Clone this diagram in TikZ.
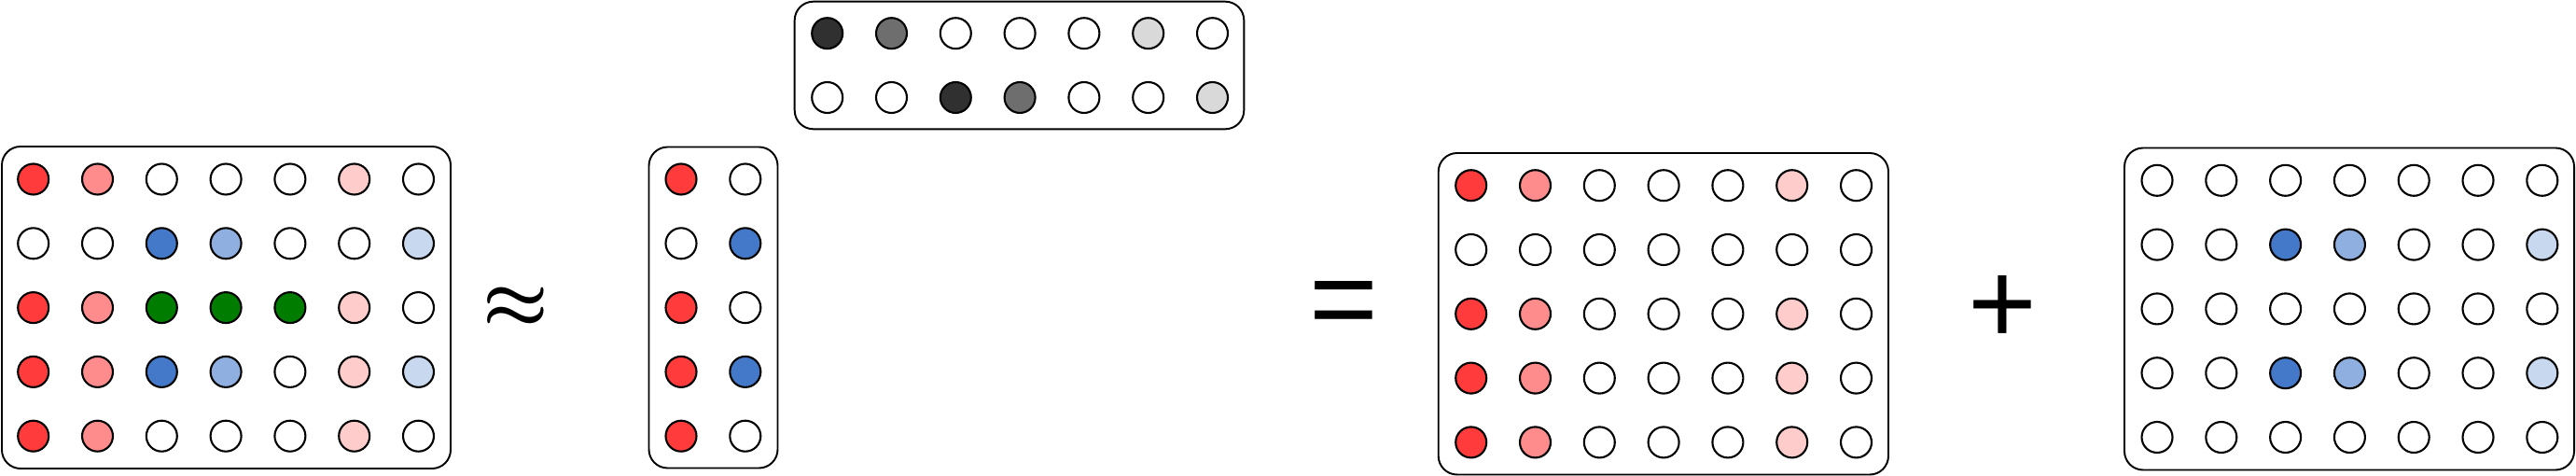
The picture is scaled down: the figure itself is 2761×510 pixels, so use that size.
\documentclass[tikz,border=0pt]{standalone}
\usepackage{bm}
\usepackage{fontspec}
\newfontfamily\opsans{Liberation Sans}

\definecolor{rA}{RGB}{255,59,59}
\definecolor{rB}{RGB}{255,140,140}
\definecolor{rC}{RGB}{255,204,204}
\definecolor{bA}{RGB}{68,120,200}
\definecolor{bB}{RGB}{143,175,224}
\definecolor{bC}{RGB}{200,216,238}
\definecolor{gA}{RGB}{0,125,0}
\definecolor{kA}{RGB}{48,48,48}
\definecolor{kB}{RGB}{110,110,110}
\definecolor{kC}{RGB}{217,217,217}

\tikzset{
	cell/.style={circle, draw, line width=1.2pt, minimum size=0.66cm, inner sep=0pt},
	panel/.style={draw, line width=1.1pt, rounded corners=0.4cm},
	op/.style={inner sep=0pt, font=\opsans\fontsize{72}{72}\selectfont},
}

% one grid of cells: name, first centre x, first centre y, rows of colours
\newcommand{\dotgrid}[4]{
	\foreach \cellrow [count=\i from 0] in {#4}
		\foreach \fillc [count=\j from 0] in \cellrow
			\node[cell, fill=\fillc] (#1-\i-\j) at ({#2+\j*68.8},{#3+\i*68.8}) {};
}

\begin{document}
\begin{tikzpicture}[x=0.02cm, y=-0.02cm]
	\useasboundingbox (0,0) rectangle (2761,510);

	% data matrix
	\draw[panel] (2,157) rectangle (483,502);
	\dotgrid{data}{35.7}{192}{{rA,rB,white,white,white,rC,white},{white,white,bA,bB,white,white,bC},{rA,rB,gA,gA,gA,rC,white},{rA,rB,bA,bB,white,rC,bC},{rA,rB,white,white,white,rC,white}}
	\node[scale=4.5, inner sep=0pt] (approx) at (553,330) {$\bm{\approx}$};

	% left factor
	\draw[panel] (695.5,157.5) rectangle (833.5,501.5);
	\dotgrid{left}{730}{192}{{rA,white},{white,bA},{rA,white},{rA,bA},{rA,white}}

	% right factor
	\draw[panel] (851.7,1.7) rectangle (1333.3,138.3);
	\dotgrid{right}{886.7}{35.7}{{kA,kB,white,white,white,kC,white},{white,white,kA,kB,white,white,kC}}

	\node[op] (eq) at (1440,332) {=};

	% first part
	\draw[panel] (1541.7,164) rectangle (2024,508.5);
	\dotgrid{partA}{1576.7}{198.7}{{rA,rB,white,white,white,rC,white},{white,white,white,white,white,white,white},{rA,rB,white,white,white,rC,white},{rA,rB,white,white,white,rC,white},{rA,rB,white,white,white,rC,white}}

	\node[op] (plus) at (2146.5,331.7) {+};

	% second part
	\draw[panel] (2277,158.5) rectangle (2759,503.5);
	\dotgrid{partB}{2312}{193.3}{{white,white,white,white,white,white,white},{white,white,bA,bB,white,white,bC},{white,white,white,white,white,white,white},{white,white,bA,bB,white,white,bC},{white,white,white,white,white,white,white}}
\end{tikzpicture}
\end{document}
